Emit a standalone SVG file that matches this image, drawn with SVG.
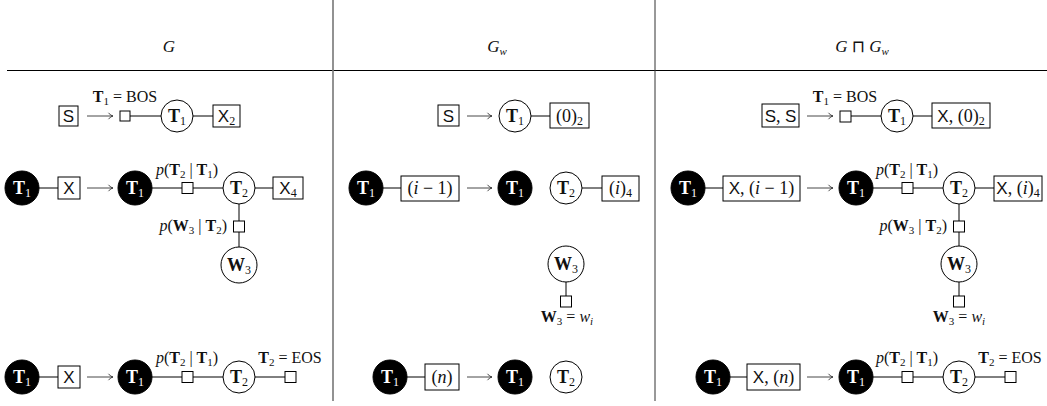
<svg xmlns="http://www.w3.org/2000/svg" width="1047" height="406" viewBox="0 0 1047 406">
<style>
.c{fill:#fff;stroke:#000;stroke-width:1}
.f{fill:#000;stroke:#000;stroke-width:1}
.bx{fill:#fff;stroke:#000;stroke-width:1}
.fac{fill:#fff;stroke:#000;stroke-width:1}
.ln{stroke:#000;stroke-width:1;fill:none}
.ar{stroke:#333;stroke-width:0.9;fill:none;marker-end:url(#ah)}
text{font-family:"Liberation Serif","DejaVu Serif",serif;fill:#111}
.lb{font-size:16px}
.nt{font-size:18px}
.hd{font-size:17px;font-style:italic}
.w{fill:#fff}
.sf{font-family:"Liberation Sans","DejaVu Sans",sans-serif;font-size:17px}
.b{font-weight:bold}
.i{font-style:italic}
.sb{font-size:11px}
.sbn{font-size:12px}
.sym{font-family:"DejaVu Sans","Liberation Serif",serif;font-style:normal}
</style>
<defs>
<marker id="ah" viewBox="0 0 8 8" refX="7" refY="4" markerWidth="8" markerHeight="8" markerUnits="userSpaceOnUse" orient="auto">
<path d="M2.5,0.8 Q4.5,3.6 7,4 Q4.5,4.4 2.5,7.2" fill="none" stroke="#333" stroke-width="0.9"/>
</marker>
</defs>
<rect x="0" y="0" width="1047" height="406" fill="#fff"/>
<g id="table">
<line x1="7" y1="70.5" x2="1047" y2="70.5" stroke="#000" stroke-width="1.2"/>
<line x1="333" y1="0" x2="333" y2="401" stroke="#777" stroke-width="1.6"/>
<line x1="655" y1="0" x2="655" y2="401" stroke="#333" stroke-width="1"/>
<text class="hd" x="169" y="52" text-anchor="middle">G</text>
<text class="hd" x="497" y="52" text-anchor="middle">G<tspan class="sb" dy="3">w</tspan></text>
<text class="hd" x="862" y="52" text-anchor="middle">G <tspan class="sym">⊓</tspan> G<tspan class="sb" dy="3">w</tspan></text>
</g>
<g id="connectors">
<line class="ar" x1="87" y1="116" x2="113" y2="116"/>
<line class="ln" x1="130" y1="116" x2="161" y2="116"/>
<line class="ln" x1="193" y1="116" x2="213" y2="116"/>
<line class="ln" x1="39" y1="188" x2="58" y2="188"/>
<line class="ar" x1="87" y1="188" x2="113" y2="188"/>
<line class="ln" x1="152" y1="188" x2="223" y2="188"/>
<line class="ln" x1="255" y1="188" x2="273" y2="188"/>
<line class="ln" x1="239" y1="204" x2="239" y2="247"/>
<line class="ln" x1="39" y1="377" x2="58" y2="377"/>
<line class="ar" x1="87" y1="377" x2="113" y2="377"/>
<line class="ln" x1="152" y1="377" x2="223" y2="377"/>
<line class="ln" x1="255" y1="377" x2="285" y2="377"/>
<line class="ar" x1="467" y1="116" x2="492" y2="116"/>
<line class="ln" x1="531" y1="116" x2="550" y2="116"/>
<line class="ln" x1="383" y1="188" x2="401" y2="188"/>
<line class="ar" x1="467" y1="188" x2="492" y2="188"/>
<line class="ln" x1="582" y1="188" x2="602" y2="188"/>
<line class="ln" x1="566" y1="282" x2="566" y2="296"/>
<line class="ln" x1="407" y1="377" x2="425" y2="377"/>
<line class="ar" x1="467" y1="377" x2="492" y2="377"/>
<line class="ar" x1="807" y1="116" x2="833" y2="116"/>
<line class="ln" x1="851" y1="116" x2="881" y2="116"/>
<line class="ln" x1="913" y1="116" x2="932" y2="116"/>
<line class="ln" x1="705" y1="188" x2="723" y2="188"/>
<line class="ar" x1="807" y1="188" x2="833" y2="188"/>
<line class="ln" x1="873" y1="188" x2="943" y2="188"/>
<line class="ln" x1="975" y1="188" x2="994" y2="188"/>
<line class="ln" x1="959" y1="204" x2="959" y2="246"/>
<line class="ln" x1="959" y1="282" x2="959" y2="296"/>
<line class="ln" x1="730" y1="377" x2="747" y2="377"/>
<line class="ar" x1="807" y1="377" x2="833" y2="377"/>
<line class="ln" x1="873" y1="377" x2="943" y2="377"/>
<line class="ln" x1="975" y1="377" x2="1005" y2="377"/>
</g>

<g id="g-r1-S"><rect class="bx" x="59" y="106" width="19" height="20"/><text class="sf" x="68.5" y="122" text-anchor="middle">S</text></g>
<g id="g-r1-f"><rect class="fac" x="120" y="111" width="10" height="10"/><text class="lb" x="125" y="102" text-anchor="middle"><tspan class="b">T</tspan><tspan class="sb" dy="3">1</tspan><tspan dy="-3"> = BOS</tspan></text></g>
<g id="g-r1-T1"><circle class="c" cx="177" cy="116" r="16"/><text class="nt" x="177" y="122" text-anchor="middle"><tspan class="b">T</tspan><tspan class="sbn" dy="3">1</tspan></text></g>
<g id="g-r1-X2"><rect class="bx" x="213" y="105" width="27" height="22"/><text class="nt" x="226.5" y="122" text-anchor="middle"><tspan class="sf">X</tspan><tspan class="sbn" dy="3">2</tspan></text></g>

<g id="g-r2-T1a"><circle class="f" cx="22" cy="188" r="17"/><text class="nt w" x="22" y="194" text-anchor="middle"><tspan class="b">T</tspan><tspan class="sbn" dy="3">1</tspan></text></g>
<g id="g-r2-X"><rect class="bx" x="58" y="177" width="22" height="22"/><text class="sf" x="69" y="194" text-anchor="middle">X</text></g>
<g id="g-r2-T1b"><circle class="f" cx="135" cy="188" r="17"/><text class="nt w" x="135" y="194" text-anchor="middle"><tspan class="b">T</tspan><tspan class="sbn" dy="3">1</tspan></text></g>
<g id="g-r2-f"><rect class="fac" x="182" y="182.5" width="11" height="11"/><text class="lb" x="187" y="175" text-anchor="middle"><tspan class="i">p</tspan>(<tspan class="b">T</tspan><tspan class="sb" dy="3">2</tspan><tspan dy="-3"> | </tspan><tspan class="b">T</tspan><tspan class="sb" dy="3">1</tspan><tspan dy="-3">)</tspan></text></g>
<g id="g-r2-T2"><circle class="c" cx="239" cy="188" r="16"/><text class="nt" x="239" y="194" text-anchor="middle"><tspan class="b">T</tspan><tspan class="sbn" dy="3">2</tspan></text></g>
<g id="g-r2-X4"><rect class="bx" x="273" y="177" width="30" height="22"/><text class="nt" x="288" y="194" text-anchor="middle"><tspan class="sf">X</tspan><tspan class="sbn" dy="3">4</tspan></text></g>
<g id="g-r2-fw"><rect class="fac" x="233.5" y="221" width="11" height="11"/><text class="lb" x="227" y="231" text-anchor="end"><tspan class="i">p</tspan>(<tspan class="b">W</tspan><tspan class="sb" dy="3">3</tspan><tspan dy="-3"> | </tspan><tspan class="b">T</tspan><tspan class="sb" dy="3">2</tspan><tspan dy="-3">)</tspan></text></g>
<g id="g-r2-W3"><circle class="c" cx="239" cy="265" r="18"/><text class="nt" x="239" y="271" text-anchor="middle"><tspan class="b">W</tspan><tspan class="sbn" dy="3">3</tspan></text></g>

<g id="g-r3-T1a"><circle class="f" cx="22" cy="377" r="17"/><text class="nt w" x="22" y="383" text-anchor="middle"><tspan class="b">T</tspan><tspan class="sbn" dy="3">1</tspan></text></g>
<g id="g-r3-X"><rect class="bx" x="58" y="366" width="22" height="22"/><text class="sf" x="69" y="383" text-anchor="middle">X</text></g>
<g id="g-r3-T1b"><circle class="f" cx="135" cy="377" r="17"/><text class="nt w" x="135" y="383" text-anchor="middle"><tspan class="b">T</tspan><tspan class="sbn" dy="3">1</tspan></text></g>
<g id="g-r3-f"><rect class="fac" x="182" y="371.5" width="11" height="11"/><text class="lb" x="187" y="363" text-anchor="middle"><tspan class="i">p</tspan>(<tspan class="b">T</tspan><tspan class="sb" dy="3">2</tspan><tspan dy="-3"> | </tspan><tspan class="b">T</tspan><tspan class="sb" dy="3">1</tspan><tspan dy="-3">)</tspan></text></g>
<g id="g-r3-T2"><circle class="c" cx="239" cy="377" r="16"/><text class="nt" x="239" y="383" text-anchor="middle"><tspan class="b">T</tspan><tspan class="sbn" dy="3">2</tspan></text></g>
<g id="g-r3-fe"><rect class="fac" x="285" y="371.5" width="11" height="11"/><text class="lb" x="290" y="363" text-anchor="middle"><tspan class="b">T</tspan><tspan class="sb" dy="3">2</tspan><tspan dy="-3"> = EOS</tspan></text></g>

<g id="w-r1-S"><rect class="bx" x="438" y="105" width="21" height="21"/><text class="sf" x="448.5" y="122" text-anchor="middle">S</text></g>
<g id="w-r1-T1"><circle class="c" cx="515" cy="116" r="16"/><text class="nt" x="515" y="122" text-anchor="middle"><tspan class="b">T</tspan><tspan class="sbn" dy="3">1</tspan></text></g>
<g id="w-r1-0"><rect class="bx" x="550" y="103" width="39" height="25"/><text class="nt" x="569.5" y="121.5" text-anchor="middle">(0)<tspan class="sbn" dy="3">2</tspan></text></g>

<g id="w-r2-T1a"><circle class="f" cx="366" cy="188" r="17"/><text class="nt w" x="366" y="194" text-anchor="middle"><tspan class="b">T</tspan><tspan class="sbn" dy="3">1</tspan></text></g>
<g id="w-r2-im1"><rect class="bx" x="401" y="176" width="58" height="25"/><text class="nt" x="430" y="194" text-anchor="middle">(<tspan class="i">i</tspan> − 1)</text></g>
<g id="w-r2-T1b"><circle class="f" cx="515" cy="188" r="17"/><text class="nt w" x="515" y="194" text-anchor="middle"><tspan class="b">T</tspan><tspan class="sbn" dy="3">1</tspan></text></g>
<g id="w-r2-T2"><circle class="c" cx="566" cy="188" r="16"/><text class="nt" x="566" y="194" text-anchor="middle"><tspan class="b">T</tspan><tspan class="sbn" dy="3">2</tspan></text></g>
<g id="w-r2-i4"><rect class="bx" x="602" y="176" width="37" height="25"/><text class="nt" x="620.5" y="194" text-anchor="middle">(<tspan class="i">i</tspan>)<tspan class="sbn" dy="3">4</tspan></text></g>
<g id="w-r2-W3"><circle class="c" cx="566" cy="264" r="18"/><text class="nt" x="566" y="270" text-anchor="middle"><tspan class="b">W</tspan><tspan class="sbn" dy="3">3</tspan></text></g>
<g id="w-r2-fw"><rect class="fac" x="560.5" y="296" width="11" height="11"/><text class="lb" x="567" y="322" text-anchor="middle"><tspan class="b">W</tspan><tspan class="sb" dy="3">3</tspan><tspan dy="-3"> = </tspan><tspan class="i">w</tspan><tspan class="sb i" dy="3">i</tspan></text></g>

<g id="w-r3-T1a"><circle class="f" cx="390" cy="377" r="17"/><text class="nt w" x="390" y="383" text-anchor="middle"><tspan class="b">T</tspan><tspan class="sbn" dy="3">1</tspan></text></g>
<g id="w-r3-n"><rect class="bx" x="425" y="364" width="34" height="26"/><text class="nt" x="442" y="383" text-anchor="middle">(<tspan class="i">n</tspan>)</text></g>
<g id="w-r3-T1b"><circle class="f" cx="515" cy="377" r="17"/><text class="nt w" x="515" y="383" text-anchor="middle"><tspan class="b">T</tspan><tspan class="sbn" dy="3">1</tspan></text></g>
<g id="w-r3-T2"><circle class="c" cx="566" cy="377" r="16"/><text class="nt" x="566" y="383" text-anchor="middle"><tspan class="b">T</tspan><tspan class="sbn" dy="3">2</tspan></text></g>

<g id="p-r1-SS"><rect class="bx" x="762" y="104" width="37" height="23"/><text class="nt" x="780.5" y="122" text-anchor="middle"><tspan class="sf">S</tspan>, <tspan class="sf">S</tspan></text></g>
<g id="p-r1-f"><rect class="fac" x="840" y="111" width="11" height="11"/><text class="lb" x="845" y="102" text-anchor="middle"><tspan class="b">T</tspan><tspan class="sb" dy="3">1</tspan><tspan dy="-3"> = BOS</tspan></text></g>
<g id="p-r1-T1"><circle class="c" cx="897" cy="116" r="16"/><text class="nt" x="897" y="122" text-anchor="middle"><tspan class="b">T</tspan><tspan class="sbn" dy="3">1</tspan></text></g>
<g id="p-r1-X0"><rect class="bx" x="932" y="103" width="58" height="25"/><text class="nt" x="961" y="121.5" text-anchor="middle"><tspan class="sf">X</tspan>, (0)<tspan class="sbn" dy="3">2</tspan></text></g>

<g id="p-r2-T1a"><circle class="f" cx="688" cy="188" r="17"/><text class="nt w" x="688" y="194" text-anchor="middle"><tspan class="b">T</tspan><tspan class="sbn" dy="3">1</tspan></text></g>
<g id="p-r2-Xim1"><rect class="bx" x="723" y="176" width="77" height="25"/><text class="nt" x="761.5" y="194" text-anchor="middle"><tspan class="sf">X</tspan>, (<tspan class="i">i</tspan> − 1)</text></g>
<g id="p-r2-T1b"><circle class="f" cx="856" cy="188" r="17"/><text class="nt w" x="856" y="194" text-anchor="middle"><tspan class="b">T</tspan><tspan class="sbn" dy="3">1</tspan></text></g>
<g id="p-r2-f"><rect class="fac" x="902" y="182.5" width="11" height="11"/><text class="lb" x="907" y="175" text-anchor="middle"><tspan class="i">p</tspan>(<tspan class="b">T</tspan><tspan class="sb" dy="3">2</tspan><tspan dy="-3"> | </tspan><tspan class="b">T</tspan><tspan class="sb" dy="3">1</tspan><tspan dy="-3">)</tspan></text></g>
<g id="p-r2-T2"><circle class="c" cx="959" cy="188" r="16"/><text class="nt" x="959" y="194" text-anchor="middle"><tspan class="b">T</tspan><tspan class="sbn" dy="3">2</tspan></text></g>
<g id="p-r2-Xi4"><rect class="bx" x="994" y="176" width="48" height="25"/><text class="nt" x="1018" y="194" text-anchor="middle"><tspan class="sf">X</tspan>, (<tspan class="i">i</tspan>)<tspan class="sbn" dy="3">4</tspan></text></g>
<g id="p-r2-fw"><rect class="fac" x="953.5" y="221" width="11" height="11"/><text class="lb" x="947" y="231" text-anchor="end"><tspan class="i">p</tspan>(<tspan class="b">W</tspan><tspan class="sb" dy="3">3</tspan><tspan dy="-3"> | </tspan><tspan class="b">T</tspan><tspan class="sb" dy="3">2</tspan><tspan dy="-3">)</tspan></text></g>
<g id="p-r2-W3"><circle class="c" cx="959" cy="264" r="18"/><text class="nt" x="959" y="270" text-anchor="middle"><tspan class="b">W</tspan><tspan class="sbn" dy="3">3</tspan></text></g>
<g id="p-r2-fv"><rect class="fac" x="953.5" y="296" width="11" height="11"/><text class="lb" x="959" y="322" text-anchor="middle"><tspan class="b">W</tspan><tspan class="sb" dy="3">3</tspan><tspan dy="-3"> = </tspan><tspan class="i">w</tspan><tspan class="sb i" dy="3">i</tspan></text></g>

<g id="p-r3-T1a"><circle class="f" cx="713" cy="377" r="17"/><text class="nt w" x="713" y="383" text-anchor="middle"><tspan class="b">T</tspan><tspan class="sbn" dy="3">1</tspan></text></g>
<g id="p-r3-Xn"><rect class="bx" x="747" y="364" width="53" height="26"/><text class="nt" x="773.5" y="383" text-anchor="middle"><tspan class="sf">X</tspan>, (<tspan class="i">n</tspan>)</text></g>
<g id="p-r3-T1b"><circle class="f" cx="856" cy="377" r="17"/><text class="nt w" x="856" y="383" text-anchor="middle"><tspan class="b">T</tspan><tspan class="sbn" dy="3">1</tspan></text></g>
<g id="p-r3-f"><rect class="fac" x="902" y="371.5" width="11" height="11"/><text class="lb" x="907" y="363" text-anchor="middle"><tspan class="i">p</tspan>(<tspan class="b">T</tspan><tspan class="sb" dy="3">2</tspan><tspan dy="-3"> | </tspan><tspan class="b">T</tspan><tspan class="sb" dy="3">1</tspan><tspan dy="-3">)</tspan></text></g>
<g id="p-r3-T2"><circle class="c" cx="959" cy="377" r="16"/><text class="nt" x="959" y="383" text-anchor="middle"><tspan class="b">T</tspan><tspan class="sbn" dy="3">2</tspan></text></g>
<g id="p-r3-fe"><rect class="fac" x="1005" y="371.5" width="11" height="11"/><text class="lb" x="1010" y="363" text-anchor="middle"><tspan class="b">T</tspan><tspan class="sb" dy="3">2</tspan><tspan dy="-3"> = EOS</tspan></text></g>
</svg>
